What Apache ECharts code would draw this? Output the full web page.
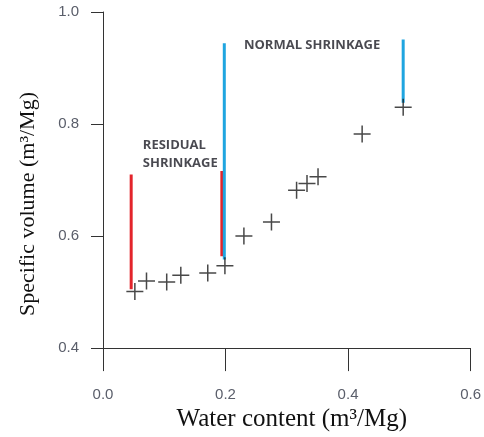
<!DOCTYPE html>
<html>
<head>
<meta charset="utf-8">
<script src="https://cdn.jsdelivr.net/npm/echarts@6/dist/echarts.min.js"></script>
<style>html,body{margin:0;padding:0;background:#fff;}#c{width:484px;height:437px;}</style>
</head>
<body>
<div id="c"></div>
<script>
// Measured points (water content, specific volume)
var waterContent = [0.052, 0.071, 0.104, 0.127, 0.171, 0.199, 0.230, 0.275, 0.316, 0.333, 0.351, 0.423, 0.490];
var specificVolume = [0.501, 0.520, 0.518, 0.530, 0.534, 0.547, 0.600, 0.625, 0.682, 0.694, 0.706, 0.782, 0.830];

// Shrinkage bars: [x, yBottom, yTop]
var residualBars = [[0.046, 0.505, 0.710], [0.194, 0.564, 0.716]];
var normalBars = [[0.198, 0.558, 0.944], [0.490, 0.838, 0.951]];

// Annotation labels: [x, y, text]
var annotations = [[0.065, 0.746, 'RESIDUAL\nSHRINKAGE'], [0.230, 0.940, 'NORMAL SHRINKAGE']];

var xTicks = [0, 0.2, 0.4, 0.6];
var yTicks = [0.4, 0.6, 0.8, 1.0];

var chart = echarts.init(document.getElementById('c'));
var series = [];
residualBars.forEach(function (b) {
  series.push({type: 'line', data: [[b[0], b[1]], [b[0], b[2]]], symbol: 'none',
    lineStyle: {color: '#e3242b', width: 3}, z: 2, silent: true});
});
normalBars.forEach(function (b) {
  series.push({type: 'line', data: [[b[0], b[1]], [b[0], b[2]]], symbol: 'none',
    lineStyle: {color: '#1fa5e0', width: 3}, z: 2, silent: true});
});
series.push({
  type: 'scatter',
  data: waterContent.map(function (x, i) { return [x, specificVolume[i]]; }),
  symbol: 'path://M-1,0L1,0M0,-1L0,1',
  symbolSize: 17,
  itemStyle: {color: 'rgba(0,0,0,0)', borderColor: '#1a1a1a', borderWidth: 1.5},
  z: 3
});
series.push({
  type: 'scatter',
  data: annotations.map(function (a) { return {value: [a[0], a[1]], name: a[2]}; }),
  symbolSize: 0,
  label: {show: true, position: [0, 0], align: 'left', verticalAlign: 'middle',
    formatter: function (p) { return p.name; },
    fontFamily: 'Open Sans', fontWeight: 'bold', fontSize: 13, color: '#1c1c24', lineHeight: 18},
  z: 4, silent: true
});

chart.setOption({
  animation: false,
  grid: {left: 103, right: 13, top: 12, bottom: 88},
  xAxis: {
    type: 'value', min: 0, max: 0.6, interval: 0.2,
    name: 'Water content (m\u00B3/Mg)', nameLocation: 'middle', nameGap: 57,
    nameTextStyle: {fontFamily: 'Liberation Serif', fontSize: 25, color: '#111', padding: [0, 0, 0, 10]},
    axisLine: {onZero: false, lineStyle: {color: '#333', width: 1}},
    axisTick: {show: true, length: 23, lineStyle: {color: '#333'}},
    axisLabel: {margin: 39, fontFamily: 'Liberation Sans', fontSize: 15, color: '#5a5e6a',
      formatter: function (v) { return v.toFixed(1); }},
    splitLine: {show: false}
  },
  yAxis: {
    type: 'value', min: 0.4, max: 1.0, interval: 0.2,
    name: 'Specific volume (m\u00B3/Mg)', nameLocation: 'middle', nameGap: 64,
    nameTextStyle: {fontFamily: 'Liberation Serif', fontSize: 22, color: '#111', padding: [0, 48, 0, 0]},
    axisLine: {onZero: false, lineStyle: {color: '#333', width: 1}},
    axisTick: {show: true, length: 12, lineStyle: {color: '#333'}},
    axisLabel: {margin: 24, fontFamily: 'Liberation Sans', fontSize: 15, color: '#5a5e6a',
      formatter: function (v) { return v.toFixed(1); }},
    splitLine: {show: false}
  },
  series: series
});
</script>
</body>
</html>
